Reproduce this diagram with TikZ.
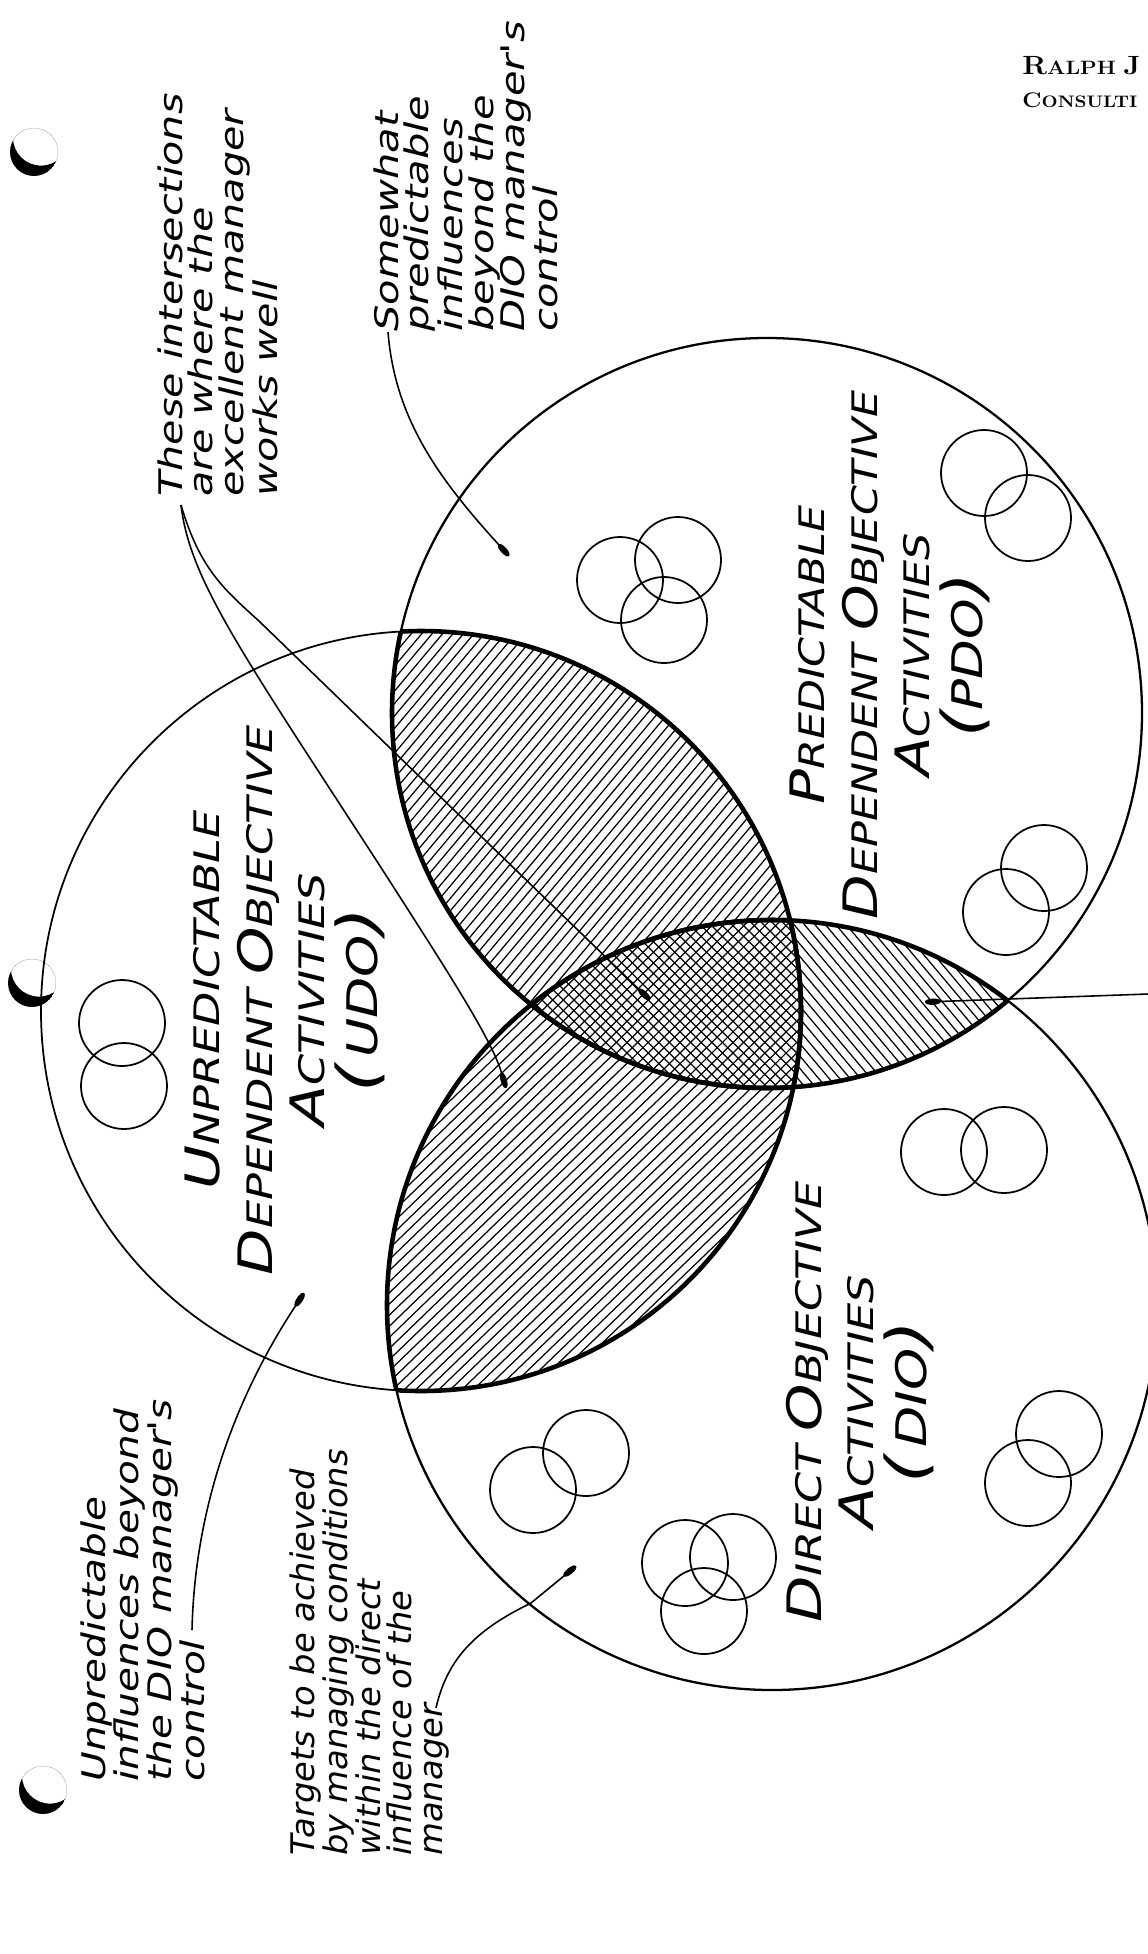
\documentclass[tikz,border=0pt]{standalone}
\usepackage{fontspec}
\usepackage{tikz}
\usetikzlibrary{arrows.meta, calc}
\newfontfamily\handfont{DejaVu Sans}

\newcommand{\capinit}[1]{{\fontsize{27}{30}\selectfont #1}}
\newcommand{\paren}[1]{{\fontsize{32}{30}\selectfont #1}}
\newcommand{\hatchlines}[3]{% centre, angle, gap
  \foreach \k in {-48,...,48}
    \draw[hatchline] (#1) ++({#2+90}:{\k*#3}) ++(#2:-460) -- ++(#2:920);
}

\tikzset{
  venn/.style={line width=1.3pt},
  lens/.style={line width=2.6pt},
  bubble/.style={line width=1pt},
  hatchline/.style={line width=0.7pt},
  leader/.style={line width=0.9pt, -{Ellipse[length=9pt,width=3.6pt]}},
  note/.style={font=\handfont\itshape\fontsize{18.5}{17.6}\selectfont, align=left,
    rotate=90, anchor=north west, inner sep=0pt},
  venntitle/.style={font=\handfont\itshape\fontsize{20}{30}\selectfont, align=center,
    rotate=90, inner sep=0pt},
}

\begin{document}
\begin{tikzpicture}[x=0.02cm, y=-0.02cm]
\useasboundingbox (0,0) rectangle (1148,1954);
\fill[white] (0,0) rectangle (1148,1954);
\clip (0,0) rectangle (1148,1954);

% circle centres
\coordinate (udo) at (421,1011);
\coordinate (pdo) at (767,713);
\coordinate (dio) at (772,1305);

% hatching of the overlaps
\begin{scope}
\clip (udo) circle (380);
\clip (pdo) circle (375);
\hatchlines{594,864}{-50}{8}
\end{scope}
\begin{scope}
\clip (udo) circle (380);
\clip (dio) circle (385);
\hatchlines{596,1160}{-44}{8}
\end{scope}
\begin{scope}
\clip (pdo) circle (375);
\clip (dio) circle (385);
\fill[white] (0,0) rectangle (1148,1954);
\hatchlines{770,1008}{50}{8}
\end{scope}
\begin{scope}
\clip (udo) circle (380);
\clip (pdo) circle (375);
\clip (dio) circle (385);
\fill[white] (0,0) rectangle (1148,1954);
\hatchlines{680,1000}{-45}{7.5}
\hatchlines{680,1000}{45}{7.5}
\end{scope}

% the three big circles
\draw[line width=1pt] (udo) circle (380);
\draw[venn] (pdo) circle (375);
\draw[venn] (dio) circle (385);

% heavy outlines of the overlaps
\begin{scope}
\clip (pdo) circle (375);
\draw[lens] (udo) circle (380);
\draw[lens] (dio) circle (385);
\end{scope}
\begin{scope}
\clip (udo) circle (380);
\draw[lens] (pdo) circle (375);
\draw[lens] (dio) circle (385);
\end{scope}
\begin{scope}
\clip (dio) circle (385);
\draw[lens] (udo) circle (380);
\draw[lens] (pdo) circle (375);
\end{scope}

% small activity circles
\foreach \c in {(122,1023),(124,1086),
                (620,580),(678,560),(664,620),(984,473),(1028,518),
                (1006,912),(1044,868),
                (944,1152),(1004,1150),(533,1490),(586,1453),
                (685,1563),(733,1557),(704,1611),(1028,1483),(1059,1434)}
  \draw[bubble] \c circle (43);

% circle titles
\node[venntitle, xscale=1.27] (udoname) at (285,1000)
  {\capinit{U}NPREDICTABLE\\\capinit{D}EPENDENT \capinit{O}BJECTIVE\\\capinit{A}CTIVITIES\\\paren{(}\,{\fontsize{24}{30}\selectfont UDO}\paren{)}};
\node[venntitle, xscale=1.22] (pdoname) at (890,655)
  {\capinit{P}REDICTABLE\\\capinit{D}EPENDENT \capinit{O}BJECTIVE\\\capinit{A}CTIVITIES\\\paren{(}{\fontsize{24}{30}\selectfont PDO}\paren{)}};
\node[venntitle, xscale=1.27] (dioname) at (860,1402)
  {\capinit{D}IRECT \capinit{O}BJECTIVE\\\capinit{A}CTIVITIES\\\paren{(}\,{\fontsize{24}{30}\selectfont DIO}\paren{)}};

% handwritten notes
\node[note, xscale=1.27] (these) at (157,497)
  {These intersections\\are where the\\excellent manager\\works well};
\node[note, xscale=1.28] (somewhat) at (373,332)
  {Somewhat\\predictable\\influences\\beyond the\\DIO manager's\\control};
\node[note, xscale=1.25] (unpred) at (80,1782)
  {Unpredictable\\influences beyond\\the DIO manager's\\control};
\node[note, xscale=1.04] (targets) at (289,1856)
  {Targets to be achieved\\by managing conditions\\within the direct\\influence of the\\manager};

% letterhead
\node[anchor=north west, inner sep=0pt, font=\bfseries, xscale=1.12] (ralph) at (1022,56)
  {{\fontsize{15}{15}\selectfont R}{\fontsize{11}{11}\selectfont ALPH} {\fontsize{15}{15}\selectfont J}};
\node[anchor=north west, inner sep=0pt, font=\bfseries, xscale=1.12] (consult) at (1022,92)
  {{\fontsize{12}{12}\selectfont C}{\fontsize{9.5}{9.5}\selectfont ONSULTI}};

% leader lines
\coordinate (thesefoot) at (181,505);
\coordinate (somefoot) at (388,332);
\coordinate (unpredend) at (192,1630);
\coordinate (targetsend) at (436,1708);
\coordinate (offpage) at (1148,994);
\coordinate (lowerdot) at (506,1088);
\coordinate (tripledot) at (650,1000);
\coordinate (pdodot) at (509,556);
\coordinate (udodot) at (304,1293);
\coordinate (diodot) at (576,1566);
\coordinate (rightdot) at (925,1002);

\draw[leader] (thesefoot) .. controls (190,580) and (240,650) .. (380,866)
  .. controls (450,975) and (492,1040) .. (lowerdot);
\draw[leader] (thesefoot) .. controls (200,570) and (225,590) .. (260,622) -- (tripledot);
\draw[leader] (somefoot) .. controls (395,420) and (440,480) .. (pdodot);
\draw[leader] (unpredend) .. controls (195,1500) and (240,1390) .. (udodot);
\draw[leader] (targetsend) .. controls (448,1655) and (480,1628) .. (531,1603) -- (diodot);
\draw[leader] (offpage) -- (rightdot);

% binder hole shadows
\foreach \p in {(34,152),(32,983),(43,1790)} {
  \begin{scope}
  \clip \p circle (24);
  \fill[even odd rule] \p circle (24) ++(7,-14.4) circle (28);
  \end{scope}
}

\end{tikzpicture}
\end{document}
